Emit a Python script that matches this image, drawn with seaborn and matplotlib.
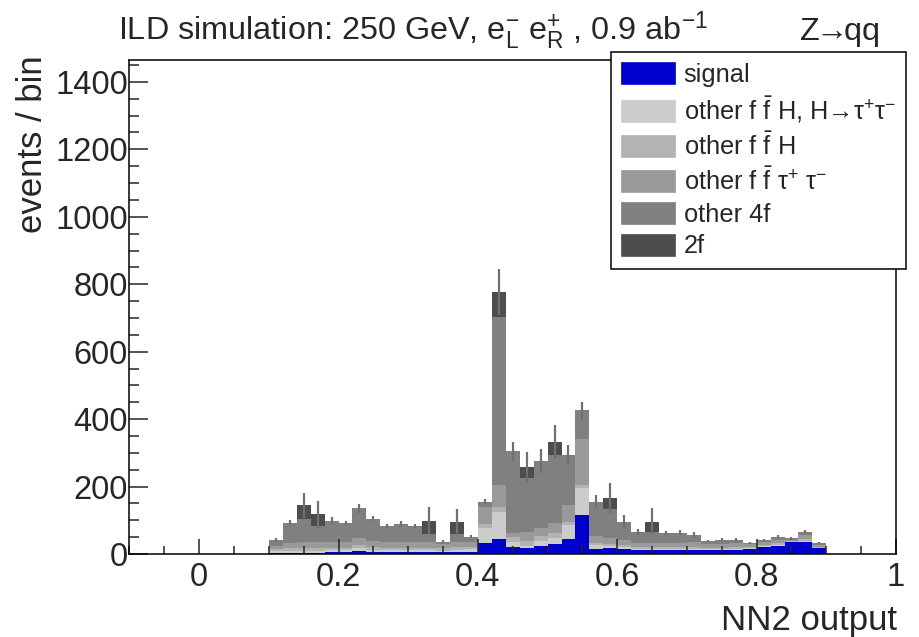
import numpy as np
import pandas as pd
import matplotlib
matplotlib.use("Agg")
import matplotlib.pyplot as plt
from matplotlib.ticker import MultipleLocator, FixedLocator
from matplotlib.patches import Patch
import seaborn as sns

sns.set_style("white")
plt.rcParams["font.family"] = ["Liberation Sans", "DejaVu Sans"]
plt.rcParams["mathtext.fontset"] = "custom"
plt.rcParams["mathtext.rm"] = "Liberation Sans"
plt.rcParams["mathtext.it"] = "Liberation Sans:italic"
plt.rcParams["mathtext.bf"] = "Liberation Sans:bold"
plt.rcParams["mathtext.sf"] = "Liberation Sans"

# ---------------- data (40 bins of width 0.02 from 0.10 to 0.90) ----------------
bin_edges = [round(0.10 + 0.02 * i, 2) for i in range(41)]

signal = [3, 4, 4, 4, 5, 5, 10, 6, 5, 5, 5, 5, 5, 6, 6,
          34, 45, 20, 18, 24, 31, 45, 116, 16, 18,
          15, 12, 12, 11, 11, 12, 12, 12, 13, 15, 20, 25, 35, 37, 17]
ffh_htautau = [5, 6, 6, 6, 6, 6, 7, 6, 6, 6, 6, 6, 5, 6, 8,
               42, 81, 16, 6, 14, 16, 40, 79, 10, 6,
               5, 4, 4, 4, 4, 4, 3, 3, 3, 3, 3, 3, 2, 3, 2]
ffh = [6, 8, 8, 8, 8, 8, 9, 8, 8, 8, 8, 8, 7, 8, 8,
       12, 13, 15, 16, 14, 14, 10, 10, 8, 6,
       6, 5, 5, 5, 5, 5, 4, 4, 4, 3, 3, 4, 3, 4, 3]
fftautau = [10, 16, 18, 18, 18, 18, 20, 18, 16, 16, 16, 16, 12, 16, 14,
            50, 65, 12, 25, 26, 30, 50, 137, 20, 18,
            15, 12, 12, 14, 14, 14, 12, 12, 12, 8, 9, 10, 3, 12, 6]
four_f = [17, 59, 69, 47, 62, 55, 89, 67, 47, 54, 47, 25, 8, 22, 15,
          17, 499, 241, 160, 198, 203, 150, 84, 101, 84,
          55, 32, 33, 27, 29, 21, 9, 11, 9, 5, 7, 9, 3, 9, 4]
two_f = [0, 0, 39, 35, 0, 0, 0, 0, 0, 0, 0, 39, 0, 37, 0,
         0, 74, 0, 32, 0, 39, 0, 0, 0, 35,
         0, 0, 30, 0, 0, 0, 0, 0, 0, 0, 0, 0, 0, 0, 0]
stat_err = [5, 8, 38, 40, 10, 6, 14, 8, 6, 8, 6, 40, 4, 39, 5,
            8, 68, 28, 46, 36, 49, 27, 25, 19, 44,
            20, 8, 39, 6, 8, 8, 3, 4, 7, 3, 3, 5, 4, 6, 3]

proc_names = ["signal",
              r"other f $\mathrm{\bar{f}}$ H, H→$\mathrm{\tau^{+}\tau^{-}}$",
              r"other f $\mathrm{\bar{f}}$ H",
              r"other f $\mathrm{\bar{f}}$ $\mathrm{\tau^{+}}$ $\mathrm{\tau^{-}}$",
              "other 4f",
              "2f"]
proc_colors = ["#0000cc", "#cccccc", "#b3b3b3", "#999999", "#808080", "#4d4d4d"]
proc_values = [signal, ffh_htautau, ffh, fftautau, four_f, two_f]

x_ticks = [0, 0.2, 0.4, 0.6, 0.8, 1.0]
x_ticklabels = ["0", "0.2", "0.4", "0.6", "0.8", "1"]
y_ticks = [0, 200, 400, 600, 800, 1000, 1200, 1400]

# ---------------- build table ----------------
edges_arr = np.array(bin_edges)
centers = 0.5 * (edges_arr[:-1] + edges_arr[1:])
frames = []
for name, vals in zip(proc_names, proc_values):
    frames.append(pd.DataFrame({"x": centers, "w": np.array(vals, dtype=float), "proc": name}))
df = pd.concat(frames, ignore_index=True)
palette = dict(zip(proc_names, proc_colors))

W, H = 920, 637
fig = plt.figure(figsize=(W / 100, H / 100), dpi=100)
ax = fig.add_axes([129.5 / W, 1 - 554 / H, (896 - 129.5) / W, (554 - 60) / H])

sns.histplot(data=df, x="x", weights="w", hue="proc",
             hue_order=proc_names[::-1], palette=palette,
             multiple="stack", bins=bin_edges, element="step",
             fill=True, alpha=1, linewidth=0, legend=False, ax=ax)

totals = np.sum(np.array(proc_values), axis=0)
ax.errorbar(centers, totals, yerr=stat_err, fmt="none", ecolor="#707070",
            elinewidth=1.6, capsize=0, zorder=3)

ax.set_xlim(-0.1, 1.0)
ax.set_ylim(0, 1465)
ax.set_xlabel("")
ax.set_ylabel("")
ax.xaxis.set_major_locator(FixedLocator(x_ticks))
ax.set_xticklabels(x_ticklabels)
ax.xaxis.set_minor_locator(MultipleLocator(0.05))
ax.yaxis.set_major_locator(FixedLocator(y_ticks))
ax.yaxis.set_minor_locator(MultipleLocator(50))
ax.tick_params(axis="x", which="major", direction="in", length=11, width=1.1,
               labelsize=23.5, pad=6, top=False, bottom=True)
ax.tick_params(axis="x", which="minor", direction="in", length=5.5, width=1.1,
               top=False, bottom=True)
ax.tick_params(axis="y", which="major", direction="in", length=14, width=1.1,
               labelsize=23.5, pad=1, right=False, left=True)
ax.tick_params(axis="y", which="minor", direction="in", length=7, width=1.1,
               right=False, left=True)
ax.set_axisbelow(False)
for sp in ax.spines.values():
    sp.set_linewidth(1.1)
    sp.set_color("black")
    sp.set_zorder(5)

# axis titles
fig.text(897 / W, 1 - 630 / H, "NN2 output", ha="right", va="baseline", fontsize=25)
fig.text(33 / W, 1 - 55 / H, "events / bin", ha="center", va="top",
         rotation=90, fontsize=25)

# header
fig.text(118 / W, 1 - 40 / H,
         r"ILD simulation: 250 GeV, $\mathrm{e^{-}_{L}}$ $\mathrm{e^{+}_{R}}$ , 0.9 ab$\mathrm{^{-1}}$",
         ha="left", va="baseline", fontsize=23.3)
fig.text(880 / W, 1 - 40 / H, r"$\mathrm{Z\!\!\rightarrow\!\!qq}$", ha="right",
         va="baseline", fontsize=23.3)

# legend
handles = [Patch(facecolor=c, edgecolor=c, linewidth=0.5) for c in proc_colors]
leg = fig.legend(handles, proc_names, loc="upper right",
                 bbox_to_anchor=(906 / W, 1 - 52 / H), bbox_transform=fig.transFigure,
                 fontsize=18.3, frameon=True, fancybox=False, framealpha=1,
                 edgecolor="black", borderaxespad=0, borderpad=0.4,
                 handlelength=2.1, handleheight=0.95, handletextpad=0.35,
                 labelspacing=0.28)
leg.get_frame().set_linewidth(1.1)
leg.set_zorder(10)

fig.savefig("out.png", dpi=100)
